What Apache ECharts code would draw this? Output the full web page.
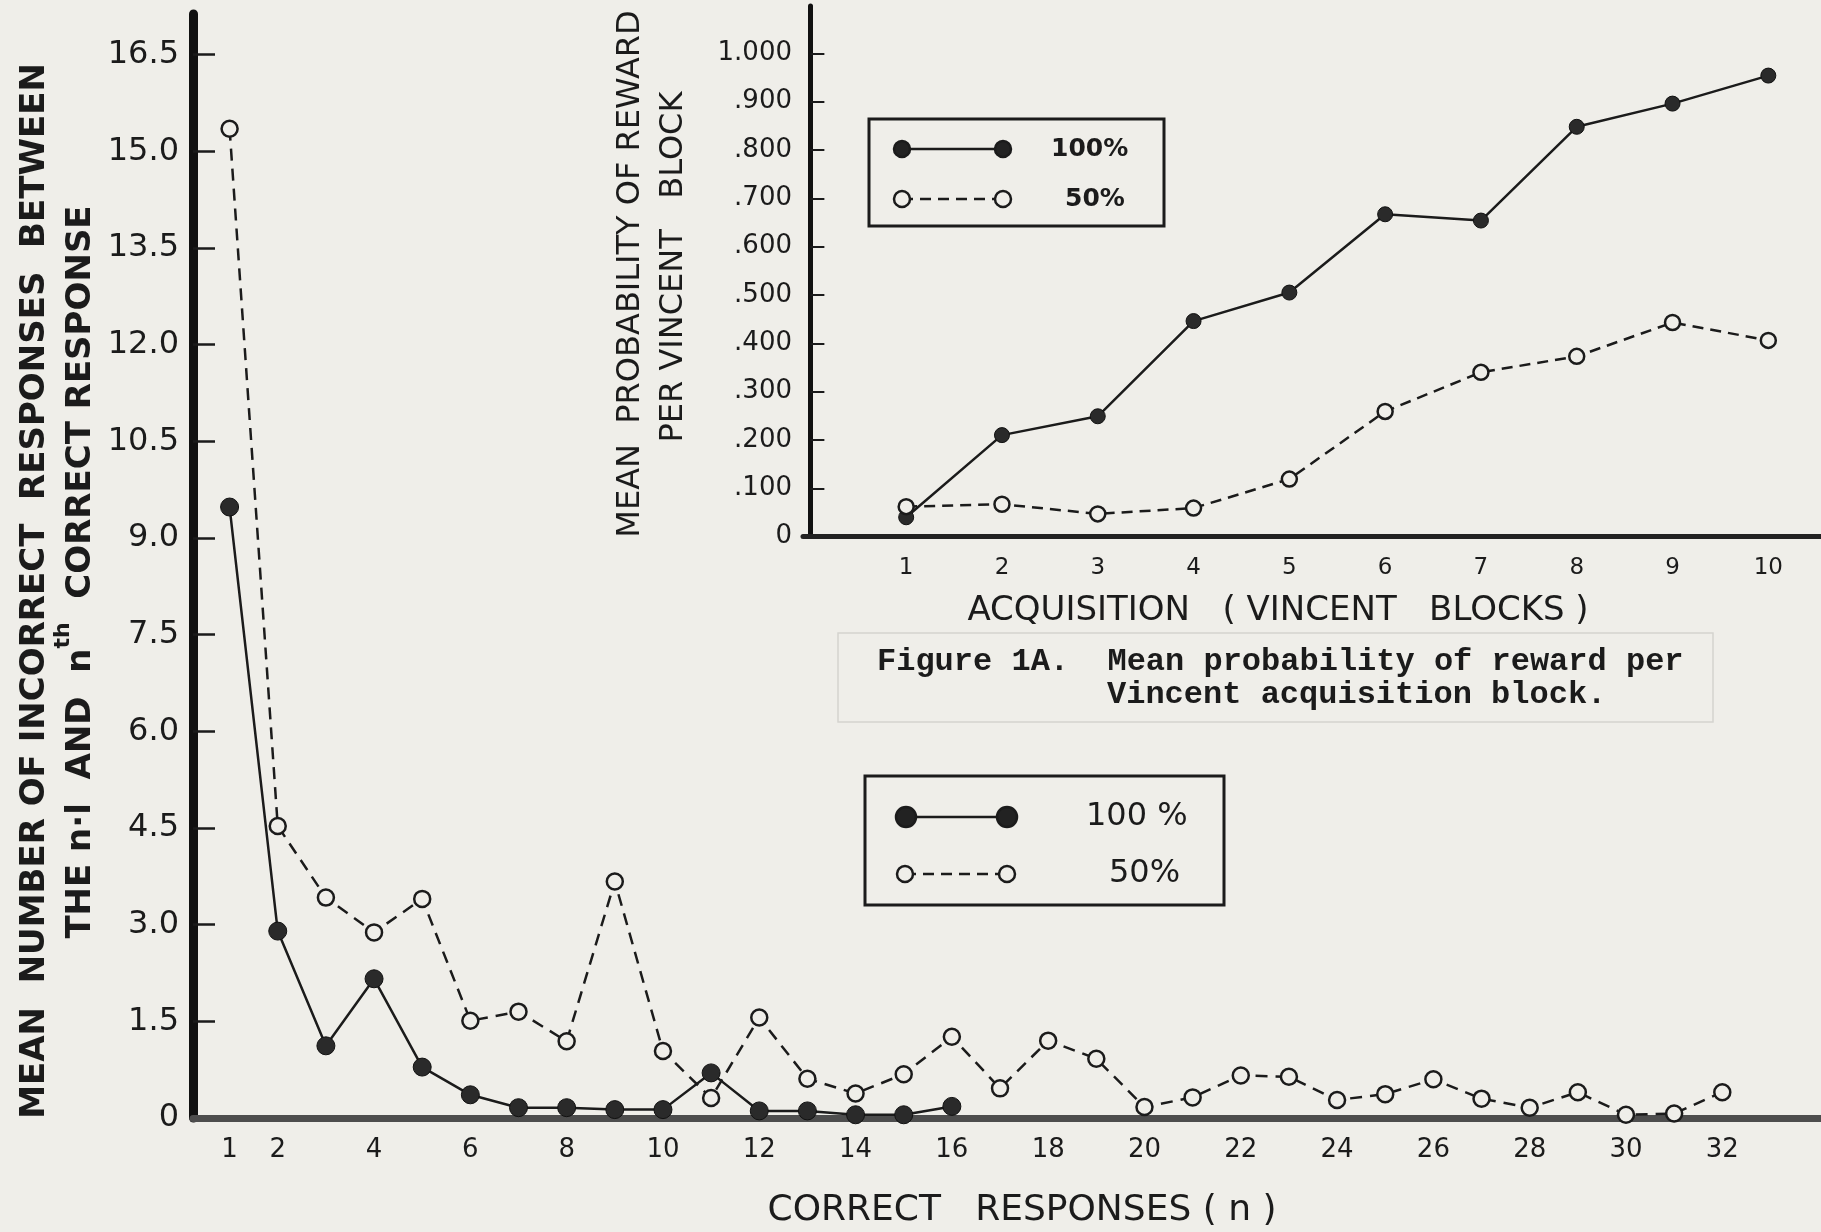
<!DOCTYPE html>
<html><head><meta charset="utf-8">
<script src="https://cdn.jsdelivr.net/npm/echarts@6/dist/echarts.min.js"></script>
<style>html,body{margin:0;padding:0;background:#efeee9;} #c{width:1821px;height:1232px;}</style>
</head><body><div id="c"></div>
<script>
// ---- data ----
const responseN = [1,2,3,4,5,6,7,8,9,10,11,12,13,14,15,16,17,18,19,20,21,22,23,24,25,26,27,28,29,30,31,32];
const main100 = [9.48, 2.90, 1.12, 2.16, 0.79, 0.36, 0.16, 0.16, 0.13, 0.13, 0.70, 0.11, 0.11, 0.05, 0.05, 0.18];
const main50 = [15.35, 4.53, 3.42, 2.88, 3.40, 1.51, 1.65, 1.19, 3.67, 1.04, 0.31, 1.56, 0.61, 0.38, 0.68, 1.26, 0.46, 1.20, 0.92, 0.17, 0.32, 0.66, 0.64, 0.28, 0.37, 0.60, 0.30, 0.16, 0.40, 0.05, 0.07, 0.40];
const blocks = [1,2,3,4,5,6,7,8,9,10];
const inset100 = [0.040, 0.210, 0.249, 0.446, 0.505, 0.667, 0.654, 0.848, 0.896, 0.954];
const inset50 = [0.062, 0.067, 0.047, 0.059, 0.119, 0.259, 0.340, 0.373, 0.443, 0.406];
const mainXLabels = [1,2,4,6,8,10,12,14,16,18,20,22,24,26,28,30,32];
const mainYTicks = [0,1.5,3,4.5,6,7.5,9,10.5,12,13.5,15,16.5];
const insetXLabels = [1,2,3,4,5,6,7,8,9,10];
const insetYTicks = [0,0.1,0.2,0.3,0.4,0.5,0.6,0.7,0.8,0.9,1.0];
const seriesNames = ['100%', '50%'];

const BG = '#efeee9';
const INK = '#1b1b1b';
const SANS = '"DejaVu Sans", sans-serif';
const MONO = '"Liberation Mono", "DejaVu Sans Mono", monospace';

function pairs(xs, ys) { return ys.map((v, i) => [xs[i], v]); }

const chart = echarts.init(document.getElementById('c'), null, {renderer: 'canvas'});

function legendGroup(x0, y0, w, h, rows, r1, r2, fontSize, fontWeight) {
  const els = [{type: 'rect', shape: {x: x0, y: y0, width: w, height: h}, style: {fill: 'none', stroke: INK, lineWidth: 3}}];
  rows.forEach(row => {
    els.push({type: 'line', shape: {x1: row.xa, y1: row.y, x2: row.xb, y2: row.y},
      style: {stroke: INK, lineWidth: 2.5, lineDash: row.filled ? null : [11, 7]}});
    [row.xa, row.xb].forEach(cx => {
      els.push({type: 'circle', shape: {cx: cx, cy: row.y, r: row.filled ? r1 : r2},
        style: {fill: row.filled ? '#222' : BG, stroke: INK, lineWidth: 2.5}});
    });
    els.push({type: 'text', x: row.tx, y: row.y,
      style: {text: row.label, font: fontWeight + ' ' + fontSize + 'px ' + SANS, fill: INK,
        textAlign: 'left', textVerticalAlign: 'middle', align: 'left', verticalAlign: 'middle'}});
  });
  return {type: 'group', children: els};
}

function vtext(x, y, text, font) {
  return {type: 'text', x: x, y: y, rotation: Math.PI / 2,
    style: {text: text, font: font, fill: INK,
      textAlign: 'center', textVerticalAlign: 'middle', align: 'center', verticalAlign: 'middle'}};
}
function htext(x, y, text, font, al) {
  return {type: 'text', x: x, y: y,
    style: {text: text, font: font, fill: INK,
      textAlign: al, textVerticalAlign: 'middle', align: al, verticalAlign: 'middle'}};
}

const option = {
  backgroundColor: BG,
  animation: false,
  grid: [
    {left: 193, right: 0, top: 14, bottom: 114},
    {left: 803, right: 0, top: 6, height: 530.6}
  ],
  xAxis: [
    {type: 'value', gridIndex: 0, min: 0.24, max: 34.05,
     axisLine: {show: true, lineStyle: {color: '#4d4d4d', width: 7}},
     axisTick: {show: false}, splitLine: {show: false},
     axisLabel: {customValues: mainXLabels, fontSize: 26, fontFamily: SANS, color: INK, margin: 19}},
    {type: 'value', gridIndex: 1, min: -0.077, max: 10.55,
     axisLine: {show: true, lineStyle: {color: '#222', width: 5}},
     axisTick: {show: false}, splitLine: {show: false},
     axisLabel: {customValues: insetXLabels, fontSize: 23, fontFamily: SANS, color: INK, margin: 20}}
  ],
  yAxis: [
    {type: 'value', gridIndex: 0, min: 0, max: 17.13,
     axisLine: {show: true, lineStyle: {color: '#111', width: 9}},
     axisTick: {show: true, inside: true, length: 22, customValues: mainYTicks.slice(1), lineStyle: {color: INK, width: 2.5}},
     splitLine: {show: false},
     axisLabel: {customValues: mainYTicks, fontSize: 32, fontFamily: SANS, color: INK, margin: 14,
       formatter: v => v === 0 ? '0' : v.toFixed(1)}},
    {type: 'value', gridIndex: 1, min: 0, max: 1.098,
     axisLine: {show: true, lineStyle: {color: '#111', width: 5}},
     axisTick: {show: true, inside: true, length: 14, customValues: insetYTicks.slice(1), lineStyle: {color: INK, width: 2}},
     splitLine: {show: false},
     axisLabel: {customValues: insetYTicks, fontSize: 26, fontFamily: SANS, color: INK, margin: 11,
       formatter: v => v === 0 ? '0' : (v >= 1 ? '1.000' : '.' + String(Math.round(v * 1000)).padStart(3, '0'))}}
  ],
  series: [
    {name: seriesNames[0], type: 'line', xAxisIndex: 0, yAxisIndex: 0, data: pairs(responseN, main100),
     symbol: 'circle', symbolSize: 18, lineStyle: {color: INK, width: 2.5},
     itemStyle: {color: '#2a2a2a', borderColor: '#111', borderWidth: 1}, z: 3},
    {name: seriesNames[1], type: 'line', xAxisIndex: 0, yAxisIndex: 0, data: pairs(responseN, main50),
     symbol: 'circle', symbolSize: 16, lineStyle: {color: INK, width: 2.5, type: [12, 8]},
     itemStyle: {color: BG, borderColor: INK, borderWidth: 2.5}, z: 4},
    {name: seriesNames[0] + ' inset', type: 'line', xAxisIndex: 1, yAxisIndex: 1, data: pairs(blocks, inset100),
     symbol: 'circle', symbolSize: 15, lineStyle: {color: INK, width: 2.5},
     itemStyle: {color: '#2a2a2a', borderColor: '#111', borderWidth: 1}, z: 3},
    {name: seriesNames[1] + ' inset', type: 'line', xAxisIndex: 1, yAxisIndex: 1, data: pairs(blocks, inset50),
     symbol: 'circle', symbolSize: 15, lineStyle: {color: INK, width: 2.5, type: [11, 7]},
     itemStyle: {color: BG, borderColor: INK, borderWidth: 2.5}, z: 4}
  ],
  graphic: [
    // main y-axis title (two lines)
    vtext(35, 591, 'MEAN  NUMBER OF INCORRECT  RESPONSES  BETWEEN', 'bold 34px ' + SANS),
    {type: 'text', x: 75, y: 572, rotation: Math.PI / 2,
     style: {text: '{a|THE n·l  AND  n}{s|th}{a|  CORRECT RESPONSE}', fill: INK,
       textAlign: 'center', textVerticalAlign: 'middle', align: 'center', verticalAlign: 'middle',
       rich: {a: {font: 'bold 34px ' + SANS, fill: INK, lineHeight: 46, verticalAlign: 'bottom'},
              s: {font: 'bold 22px ' + SANS, fill: INK, lineHeight: 46, verticalAlign: 'top'}}}},
    // main x-axis title
    htext(1022, 1211, 'CORRECT   RESPONSES ( n )', '36px ' + SANS, 'center'),
    // inset y-axis title
    vtext(631, 274, 'MEAN  PROBABILITY OF REWARD', '32px ' + SANS),
    vtext(674, 267, 'PER VINCENT   BLOCK', '32px ' + SANS),
    // inset x-axis title
    htext(1278, 611, 'ACQUISITION   ( VINCENT   BLOCKS )', '34px ' + SANS, 'center'),
    // caption
    {type: 'rect', shape: {x: 838, y: 633, width: 875, height: 89}, style: {fill: 'none', stroke: 'rgba(0,0,0,0.11)', lineWidth: 1.5}},
    htext(877, 662, 'Figure 1A.  Mean probability of reward per', 'bold 32px ' + MONO, 'left'),
    htext(1107, 695, 'Vincent acquisition block.', 'bold 32px ' + MONO, 'left'),
    // legends
    legendGroup(865, 776, 359, 129, [
      {filled: true, xa: 906, xb: 1007, y: 817, tx: 1086, label: '100 %'},
      {filled: false, xa: 905, xb: 1007, y: 874, tx: 1109, label: '50%'}
    ], 10, 8, 32, 'normal'),
    legendGroup(869, 119, 295, 107, [
      {filled: true, xa: 902, xb: 1003, y: 149, tx: 1051, label: '100%'},
      {filled: false, xa: 902, xb: 1003, y: 199, tx: 1065, label: '50%'}
    ], 8, 8, 25, 'bold')
  ]
};
chart.setOption(option);
</script>
</body></html>
